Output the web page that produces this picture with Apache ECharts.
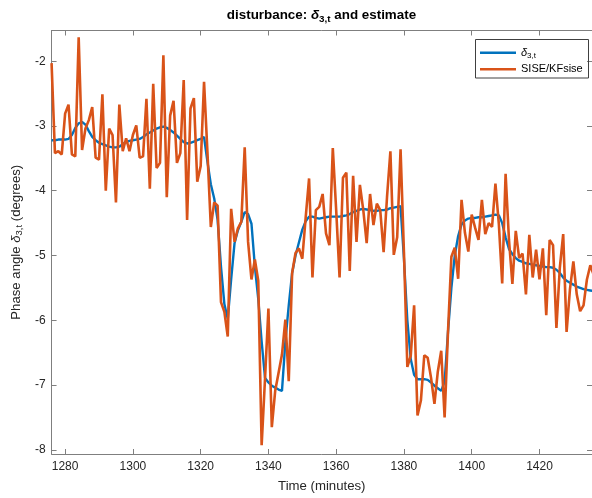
<!DOCTYPE html>
<html>
<head>
<meta charset="utf-8">
<script src="https://cdn.jsdelivr.net/npm/echarts@6/dist/echarts.min.js"></script>
<style>
  html, body { margin: 0; padding: 0; background: #fff; }
  #chart { width: 592px; height: 498px; }
</style>
</head>
<body>
<div id="chart"></div>
<script>
// Sampling: one value per minute, starting at this minute
const startMinute = 1276;

// True disturbance delta_3,t (degrees)
const disturbance = [
  -3.22, -3.22, -3.21, -3.21, -3.21, -3.20, -3.14, -3.03, -2.96, -2.94,
  -2.98, -3.08, -3.17, -3.22, -3.26, -3.28, -3.30, -3.32, -3.33, -3.33,
  -3.32, -3.28, -3.25, -3.23, -3.22, -3.21, -3.20, -3.17, -3.13, -3.10,
  -3.07, -3.04, -3.02, -3.01, -3.03, -3.06, -3.10, -3.15, -3.20, -3.25,
  -3.27, -3.26, -3.24, -3.22, -3.20, -3.17, -3.55, -3.90, -4.12, -4.45,
  -5.17, -5.75, -5.98, -5.37, -4.81, -4.61, -4.48, -4.33, -4.36, -4.51,
  -5.17, -5.67, -6.33, -6.89, -6.96, -7.01, -7.04, -7.07, -7.09, -6.33,
  -5.77, -5.27, -5.00, -4.80, -4.60, -4.47, -4.40, -4.40, -4.42, -4.43,
  -4.42, -4.41, -4.40, -4.40, -4.40, -4.40, -4.39, -4.38, -4.36, -4.33,
  -4.31, -4.29, -4.28, -4.29, -4.30, -4.31, -4.31, -4.30, -4.30, -4.29,
  -4.27, -4.26, -4.25, -4.24, -5.05, -6.00, -6.60, -6.84, -6.91, -6.91,
  -6.91, -6.92, -6.96, -7.01, -7.05, -7.09, -6.95, -6.18, -5.50, -5.00,
  -4.70, -4.52, -4.46, -4.43, -4.42, -4.42, -4.41, -4.41, -4.40, -4.39,
  -4.38, -4.37, -4.38, -4.50, -4.72, -4.90, -4.98, -5.04, -5.08, -5.10,
  -5.12, -5.13, -5.14, -5.15, -5.16, -5.17, -5.18, -5.18, -5.19, -5.22,
  -5.27, -5.34, -5.39, -5.42, -5.45, -5.48, -5.50, -5.52, -5.53, -5.54,
  -5.55
];

// SISE/KFsise estimate (degrees)
const estimate = [
  -2.03, -3.42, -3.39, -3.44, -2.81, -2.67, -3.44, -3.47, -1.63, -3.37,
  -3.04, -2.91, -2.71, -3.49, -3.52, -2.51, -4.00, -3.04, -3.14, -4.18,
  -2.67, -3.39, -3.19, -3.39, -3.14, -2.99, -3.49, -3.47, -2.58, -3.97,
  -2.35, -3.65, -3.57, -1.91, -4.10, -2.84, -2.61, -3.57, -3.42, -2.29,
  -4.45, -2.73, -2.57, -3.86, -3.62, -2.32, -3.40, -4.56, -4.18, -4.23,
  -5.72, -5.87, -6.25, -4.28, -4.79, -4.58, -4.48, -3.33, -4.79, -5.37,
  -5.06, -5.39, -7.93, -6.90, -5.82, -7.65, -7.09, -6.81, -6.53, -5.99,
  -6.94, -5.27, -4.96, -4.89, -5.05, -4.41, -3.81, -5.34, -4.30, -4.25,
  -4.05, -4.66, -4.84, -3.34, -4.30, -5.34, -3.80, -3.72, -5.24, -3.77,
  -4.79, -3.91, -4.30, -4.81, -4.05, -4.53, -4.20, -4.30, -4.95, -4.10,
  -3.39, -4.99, -4.72, -3.36, -4.95, -6.72, -6.55, -5.77, -7.47, -7.24,
  -6.54, -6.58, -6.89, -7.29, -6.79, -6.47, -7.50, -6.18, -5.02, -4.88,
  -5.36, -4.14, -4.65, -4.94, -4.37, -4.57, -4.76, -4.14, -4.67, -4.50,
  -4.56, -3.89, -4.51, -5.43, -3.74, -4.76, -5.44, -4.62, -5.04, -4.97,
  -5.60, -4.68, -5.34, -4.91, -5.37, -4.89, -5.92, -4.76, -4.84, -6.12,
  -5.19, -4.67, -6.18, -5.52, -5.09, -5.60, -5.86, -5.77, -5.37, -5.15,
  -5.30
];

// Axis limits and tick positions
const xLimits = [1276, 1435.5];
const yLimits = [-8.065, -1.526];
const xTicks = [1280, 1300, 1320, 1340, 1360, 1380, 1400, 1420];
const yTicks = [-8, -7, -6, -5, -4, -3, -2];

const seriesNames = ['delta', 'SISE/KFsise'];

const FONT = '"Liberation Sans", Arial, Helvetica, sans-serif';
const INK = '#262626';
const FRAME = '#7f7f7f';
const BLUE = '#0072BD';
const ORANGE = '#D95319';

function toPoints(values) {
  return values.map((v, i) => [startMinute + i, v]);
}

function plainNumber(v) {
  return String(v);
}

function xAxisSpec(position, withLabels) {
  return {
    type: 'value',
    position: position,
    min: xLimits[0],
    max: xLimits[1],
    axisLine: { show: true, onZero: false, lineStyle: { color: FRAME, width: 1 } },
    axisTick: { show: true, inside: true, length: 5, customValues: xTicks, lineStyle: { color: FRAME, width: 1 } },
    axisLabel: {
      show: withLabels, customValues: xTicks, margin: 7, formatter: plainNumber,
      fontFamily: FONT, fontSize: 12, color: INK
    },
    splitLine: { show: false },
    name: withLabels ? 'Time (minutes)' : '',
    nameLocation: 'middle',
    nameGap: 26,
    nameTextStyle: { fontFamily: FONT, fontSize: 13.2, color: INK }
  };
}

function yAxisSpec(position, withLabels) {
  return {
    type: 'value',
    position: position,
    min: yLimits[0],
    max: yLimits[1],
    axisLine: { show: true, onZero: false, lineStyle: { color: FRAME, width: 1 } },
    axisTick: { show: true, inside: true, length: 5, customValues: yTicks, lineStyle: { color: FRAME, width: 1 } },
    axisLabel: {
      show: withLabels, customValues: yTicks, margin: 6, formatter: plainNumber,
      fontFamily: FONT, fontSize: 12, color: INK
    },
    splitLine: { show: false },
    name: withLabels ? 'Phase angle {d|δ}{s|3,t} (degrees)' : '',
    nameLocation: 'middle',
    nameGap: 19,
    nameRotate: 90,
    nameTextStyle: {
      fontFamily: FONT, fontSize: 13.2, color: INK, lineHeight: 16,
      rich: {
        d: { fontFamily: FONT, fontSize: 13.2, color: INK, lineHeight: 16, fontStyle: 'italic' },
        s: { fontFamily: FONT, fontSize: 9.5, color: INK, lineHeight: 8, verticalAlign: 'bottom' }
      }
    }
  };
}

const chart = echarts.init(document.getElementById('chart'), null, { renderer: 'canvas' });

chart.setOption({
  animation: false,
  backgroundColor: '#ffffff',
  title: {
    text: '{b|disturbance: }{d|δ}{s|3,t}{b| and estimate}',
    left: 321.5,
    top: 6,
    textAlign: 'center',
    padding: 0,
    textStyle: {
      rich: {
        b: { fontFamily: FONT, fontSize: 13.4, fontWeight: 'bold', color: '#000', lineHeight: 18 },
        d: { fontFamily: FONT, fontSize: 13.4, fontWeight: 'bold', fontStyle: 'italic', color: '#000', lineHeight: 18 },
        s: { fontFamily: FONT, fontSize: 9.8, fontWeight: 'bold', color: '#000', lineHeight: 9, verticalAlign: 'bottom' }
      }
    }
  },
  grid: { left: 49, top: 30.5, width: 545, height: 430.5, containLabel: false },
  legend: {
    orient: 'vertical',
    left: 480,
    top: 45.7,
    padding: 0,
    itemGap: 2.6,
    itemWidth: 36,
    itemHeight: 2.6,
    icon: 'rect',
    data: seriesNames.map(n => ({ name: n, icon: 'rect' })),
    formatter: function (name) {
      return name === 'delta' ? '{d|δ}{s|3,t}' : name;
    },
    textStyle: {
      fontFamily: FONT, fontSize: 11, color: '#000', lineHeight: 14,
      rich: {
        d: { fontFamily: FONT, fontSize: 11, fontStyle: 'italic', color: '#000', lineHeight: 14 },
        s: { fontFamily: FONT, fontSize: 8, color: '#000', lineHeight: 7, verticalAlign: 'bottom' }
      }
    }
  },
  graphic: [{
    type: 'rect',
    shape: { x: 475.5, y: 39.5, width: 113, height: 38.5 },
    style: { fill: null, stroke: '#404040', lineWidth: 1 },
    z: 100
  }],
  xAxis: [xAxisSpec('bottom', true), xAxisSpec('top', false)],
  yAxis: [yAxisSpec('left', true), yAxisSpec('right', false)],
  series: [
    {
      name: seriesNames[0],
      type: 'line',
      data: toPoints(disturbance),
      symbol: 'none',
      lineStyle: { color: BLUE, width: 2.4 },
      itemStyle: { color: BLUE },
      z: 2
    },
    {
      name: seriesNames[1],
      type: 'line',
      data: toPoints(estimate),
      symbol: 'none',
      lineStyle: { color: ORANGE, width: 2.6 },
      itemStyle: { color: ORANGE },
      z: 3
    }
  ]
});
</script>
</body>
</html>
